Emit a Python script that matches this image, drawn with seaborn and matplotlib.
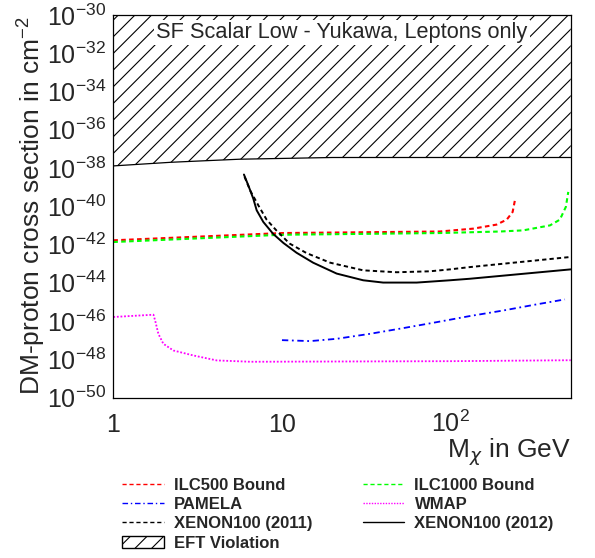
import numpy as np
import pandas as pd
import matplotlib
matplotlib.use("Agg")
import matplotlib.pyplot as plt
from matplotlib.lines import Line2D
from matplotlib.patches import Patch
from matplotlib.ticker import FixedLocator, FixedFormatter, NullFormatter
import seaborn as sns

# ---- data: DM mass (GeV) and log10 of DM-proton cross section (cm^-2) ----
ilc500_m = [1, 10, 86, 136, 187, 215, 233, 240]
ilc500_logsig = [-41.78, -41.40, -41.32, -41.17, -40.96, -40.70, -40.30, -39.72]

ilc1000_m = [1, 10, 86, 196, 269, 388, 444, 482, 498]
ilc1000_logsig = [-41.87, -41.49, -41.40, -41.32, -41.26, -41.00, -40.70, -40.03, -39.25]

pamela_m = [10, 14.7, 21.1, 33.2, 52.4, 82.6, 130, 205, 323, 476]
pamela_logsig = [-47.00, -47.05, -46.93, -46.67, -46.37, -46.06, -45.74, -45.45, -45.13, -44.87]

wmap_m = [1, 1.73, 1.77, 1.85, 1.98, 2.27, 2.98, 4.1, 6.5, 100, 515]
wmap_logsig = [-45.79, -45.67, -45.97, -46.67, -47.19, -47.54, -47.80, -48.06, -48.13, -48.10, -48.05]

xenon2011_m = [6.0, 6.5, 7.24, 8.11, 9.3, 11.1, 14.0, 19.3, 30.3, 47.9, 75.4, 99, 130, 515]
xenon2011_logsig = [-38.46, -39.20, -39.95, -40.70, -41.28, -41.95, -42.45, -42.95, -43.35,
                    -43.45, -43.40, -43.30, -43.18, -42.65]

xenon2012_m = [5.95, 6.31, 6.76, 7.08, 7.75, 8.88, 10.2, 12.2, 15.3, 21.1, 30.3, 39.8, 62.9,
               99, 130, 515]
xenon2012_logsig = [-38.34, -38.90, -39.60, -40.21, -40.82, -41.45, -41.92, -42.43, -42.95,
                    -43.52, -43.87, -43.99, -43.99, -43.87, -43.79, -43.30]

eft_m = [1, 2.2, 3.3, 5.6, 20, 515]
eft_logsig = [-37.89, -37.70, -37.63, -37.54, -37.45, -37.45]

x_ticks = [1, 10, 100]
x_ticklabels = ["1", "10", "$10^{2}$"]
y_ticks_exp = [-30, -32, -34, -36, -38, -40, -42, -44, -46, -48, -50]
y_ticklabels = ["$10^{%d}$" % e for e in y_ticks_exp]

title = "SF Scalar Low - Yukawa, Leptons only"
xlabel = r"M$_{\mathit{\chi}}$ in GeV"
ylabel = r"DM-proton cross section in cm$^{-2}$"

# ---- style ----
sns.set_style("white")
plt.rcParams["font.family"] = ["Liberation Sans", "DejaVu Sans"]
plt.rcParams["mathtext.default"] = "regular"
plt.rcParams["mathtext.fontset"] = "dejavusans"
plt.rcParams["hatch.linewidth"] = 0.8
plt.rcParams["hatch.color"] = "black"

fig = plt.figure(figsize=(5.95, 5.58), dpi=100)
ax = fig.add_axes([0.1904, 0.2876, 0.7688, 0.6855])

series = [
    ("ILC500 Bound", ilc500_m, ilc500_logsig, "#ff0000", (0, (2.2, 1.6)), 1.5),
    ("ILC1000 Bound", ilc1000_m, ilc1000_logsig, "#00ff00", (0, (2.2, 1.6)), 1.5),
    ("PAMELA", pamela_m, pamela_logsig, "#0000ff", (0, (3.5, 2, 1, 2)), 1.3),
    ("WMAP", wmap_m, wmap_logsig, "#ff00ff", (0, (1, 1)), 1.3),
    ("XENON100 (2011)", xenon2011_m, xenon2011_logsig, "black", (0, (2.2, 1.6)), 1.4),
    ("XENON100 (2012)", xenon2012_m, xenon2012_logsig, "black", "-", 1.4),
]

for name, m, ls_, color, style, lw in series:
    df = pd.DataFrame({"m": m, "sigma": 10.0 ** np.asarray(ls_)})
    sns.lineplot(data=df, x="m", y="sigma", ax=ax, color=color, linestyle=style,
                 lw=lw, estimator=None, errorbar=None, legend=False)

eft_sigma = 10.0 ** np.asarray(eft_logsig)
ax.fill_between(eft_m, eft_sigma, 1e-30, facecolor="none", edgecolor="black",
                hatch="//", linewidth=0)
sns.lineplot(x=eft_m, y=eft_sigma, ax=ax, color="black", lw=0.9,
             estimator=None, errorbar=None, legend=False)

ax.set_xscale("log")
ax.set_yscale("log")
ax.set_xlim(1, 515)
ax.set_ylim(1e-50, 1e-30)

ax.xaxis.set_major_locator(FixedLocator(x_ticks))
ax.xaxis.set_major_formatter(FixedFormatter(x_ticklabels))
ax.xaxis.set_minor_locator(FixedLocator([v * d for d in (1, 10, 100) for v in range(2, 10)]))
ax.xaxis.set_minor_formatter(NullFormatter())
ax.yaxis.set_major_locator(FixedLocator([10.0 ** e for e in y_ticks_exp]))
ax.yaxis.set_major_formatter(FixedFormatter(y_ticklabels))
ax.yaxis.set_minor_locator(FixedLocator([10.0 ** e for e in range(-49, -30, 2)]))
ax.yaxis.set_minor_formatter(NullFormatter())

ax.tick_params(which="both", direction="in", top=False, right=False, color="black",
               width=0.8)
ax.tick_params(which="major", length=9, labelsize=18)
ax.tick_params(which="minor", length=5)
ax.tick_params(axis="y", which="minor", length=9)
ax.tick_params(axis="x", which="major", pad=24.5)
ax.tick_params(axis="y", which="major", pad=5)
for lab in ax.get_xticklabels():
    lab.set_va("baseline")

for sp in ax.spines.values():
    sp.set_color("black")
    sp.set_linewidth(0.9)

ax.set_xlabel(xlabel, fontsize=19)
ax.xaxis.label.set_ha("right")
ax.xaxis.label.set_va("baseline")
ax.xaxis.set_label_coords(1.0, -0.156)
ax.set_ylabel(ylabel, fontsize=19)
ax.yaxis.set_label_coords(-0.143, 0.5)

ax.text(0.5, 0.955, title, transform=ax.transAxes, ha="center", va="center",
        fontsize=15.7, bbox=dict(facecolor="white", edgecolor="none", pad=1.5))

# ---- legend ----
def h(color, style):
    return Line2D([], [], color=color, linestyle=style, lw=1.0)

handles = [h("#ff0000", (0, (3, 2))), h("#0000ff", (0, (4, 2, 1, 2))),
           h("black", (0, (3, 2))),
           Patch(facecolor="white", edgecolor="black", hatch="//", lw=1.0),
           h("#00ff00", (0, (3, 2))), h("#ff00ff", (0, (1, 1))), h("black", "-")]
labels = ["ILC500 Bound", "PAMELA", "XENON100 (2011)", "EFT Violation",
          "ILC1000 Bound", "WMAP", "XENON100 (2012)"]
fig.legend(handles, labels, ncol=2, loc="upper left",
           bbox_to_anchor=(122 / 595, 1 - 478 / 558), bbox_transform=fig.transFigure,
           frameon=False, prop={"weight": "bold", "size": 12},
           handlelength=2.5, handletextpad=0.62, columnspacing=3.0,
           labelspacing=0.25, borderpad=0, borderaxespad=0, handleheight=0.7)

fig.savefig("out.png", dpi=100)
